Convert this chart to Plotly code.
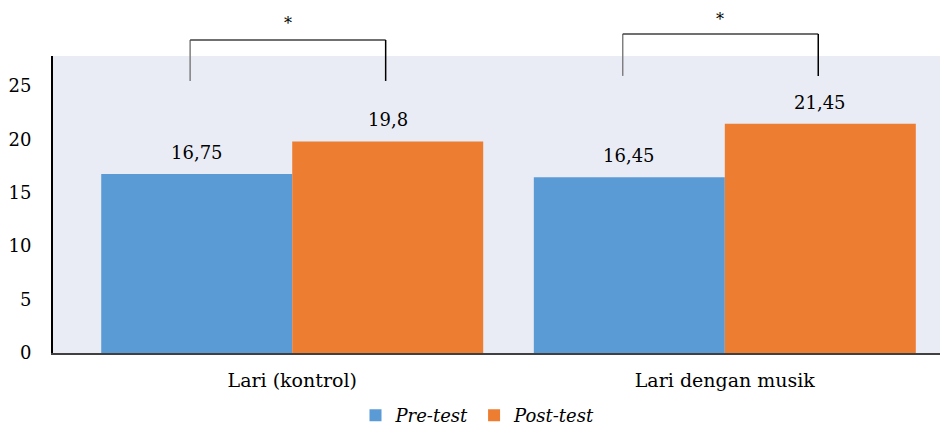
import plotly.graph_objects as go

categories = ["Lari (kontrol)", "Lari dengan musik"]
pre_test = [16.75, 16.45]
post_test = [19.8, 21.45]
series_names = ["Pre-test", "Post-test"]
sig_marks = ["*", "*"]
y_ticks = [0, 5, 10, 15, 20, 25]

BLUE = "#5B9BD5"
ORANGE = "#ED7D31"
FONT = "DejaVu Serif"

fig = go.Figure()
fig.add_trace(go.Bar(x=[0, 1], y=pre_test, name=series_names[0], marker=dict(color=BLUE, line=dict(width=0))))
fig.add_trace(go.Bar(x=[0, 1], y=post_test, name=series_names[1], marker=dict(color=ORANGE, line=dict(width=0))))

# value labels
for i, (a, b) in enumerate(zip(pre_test, post_test)):
    for off, v in ((-0.221, a), (0.221, b)):
        fig.add_annotation(x=i + off, y=v, xref="x", yref="y", text=f"{v:g}".replace(".", ","),
                           showarrow=False, yanchor="bottom", yshift=9,
                           font=dict(family=FONT, size=18, color="#000"))

# significance brackets
bracket_top = [1.054, 1.074]
bracket_bot = [0.916, 0.933]
star_y = [1.148, 1.162]
for i, mark in enumerate(sig_marks):
    xl, xr = i - 0.236, i + 0.216
    t, bt = bracket_top[i], bracket_bot[i]
    fig.add_shape(type="line", xref="x", yref="paper", x0=xl, x1=xl, y0=bt, y1=t, line=dict(color="#7f7f7f", width=1.5))
    fig.add_shape(type="line", xref="x", yref="paper", x0=xl, x1=xr, y0=t, y1=t, line=dict(color="#404040", width=1.5))
    fig.add_shape(type="line", xref="x", yref="paper", x0=xr, x1=xr, y0=bt, y1=t, line=dict(color="#000", width=1.5))
    fig.add_annotation(x=(xl + xr) / 2, y=star_y[i], xref="x", yref="paper", text=mark, showarrow=False,
                       font=dict(family=FONT, size=16, color="#000"))

fig.update_layout(
    width=940, height=418,
    margin=dict(l=45, r=3, t=48, b=73),
    paper_bgcolor="white",
    plot_bgcolor="#E9ECF5",
    barmode="group",
    bargap=0.117,
    bargroupgap=0,
    font=dict(family=FONT, size=18, color="#000"),
    showlegend=True,
    legend=dict(orientation="h", x=0.5, xanchor="center", xref="container", yref="container",
                y=0.025, yanchor="middle",
                font=dict(family=FONT, size=18, style="italic"), itemwidth=30, traceorder="normal"),
    xaxis=dict(type="linear", range=[-0.553, 1.509], tickmode="array", tickvals=[0, 1], ticktext=categories,
               showgrid=False, zeroline=False, showline=True, linecolor="#404040", linewidth=1.5,
               ticks="outside", ticklen=9, tickcolor="rgba(0,0,0,0)", tickfont=dict(size=19),
               automargin=False),
    yaxis=dict(range=[0, 27.8], tickmode="array", tickvals=y_ticks, showgrid=False, zeroline=False,
               showline=True, linecolor="#000", linewidth=2,
               ticks="outside", ticklen=16, tickcolor="rgba(0,0,0,0)", tickfont=dict(size=18),
               automargin=False),
)

fig.write_html("out.html")
